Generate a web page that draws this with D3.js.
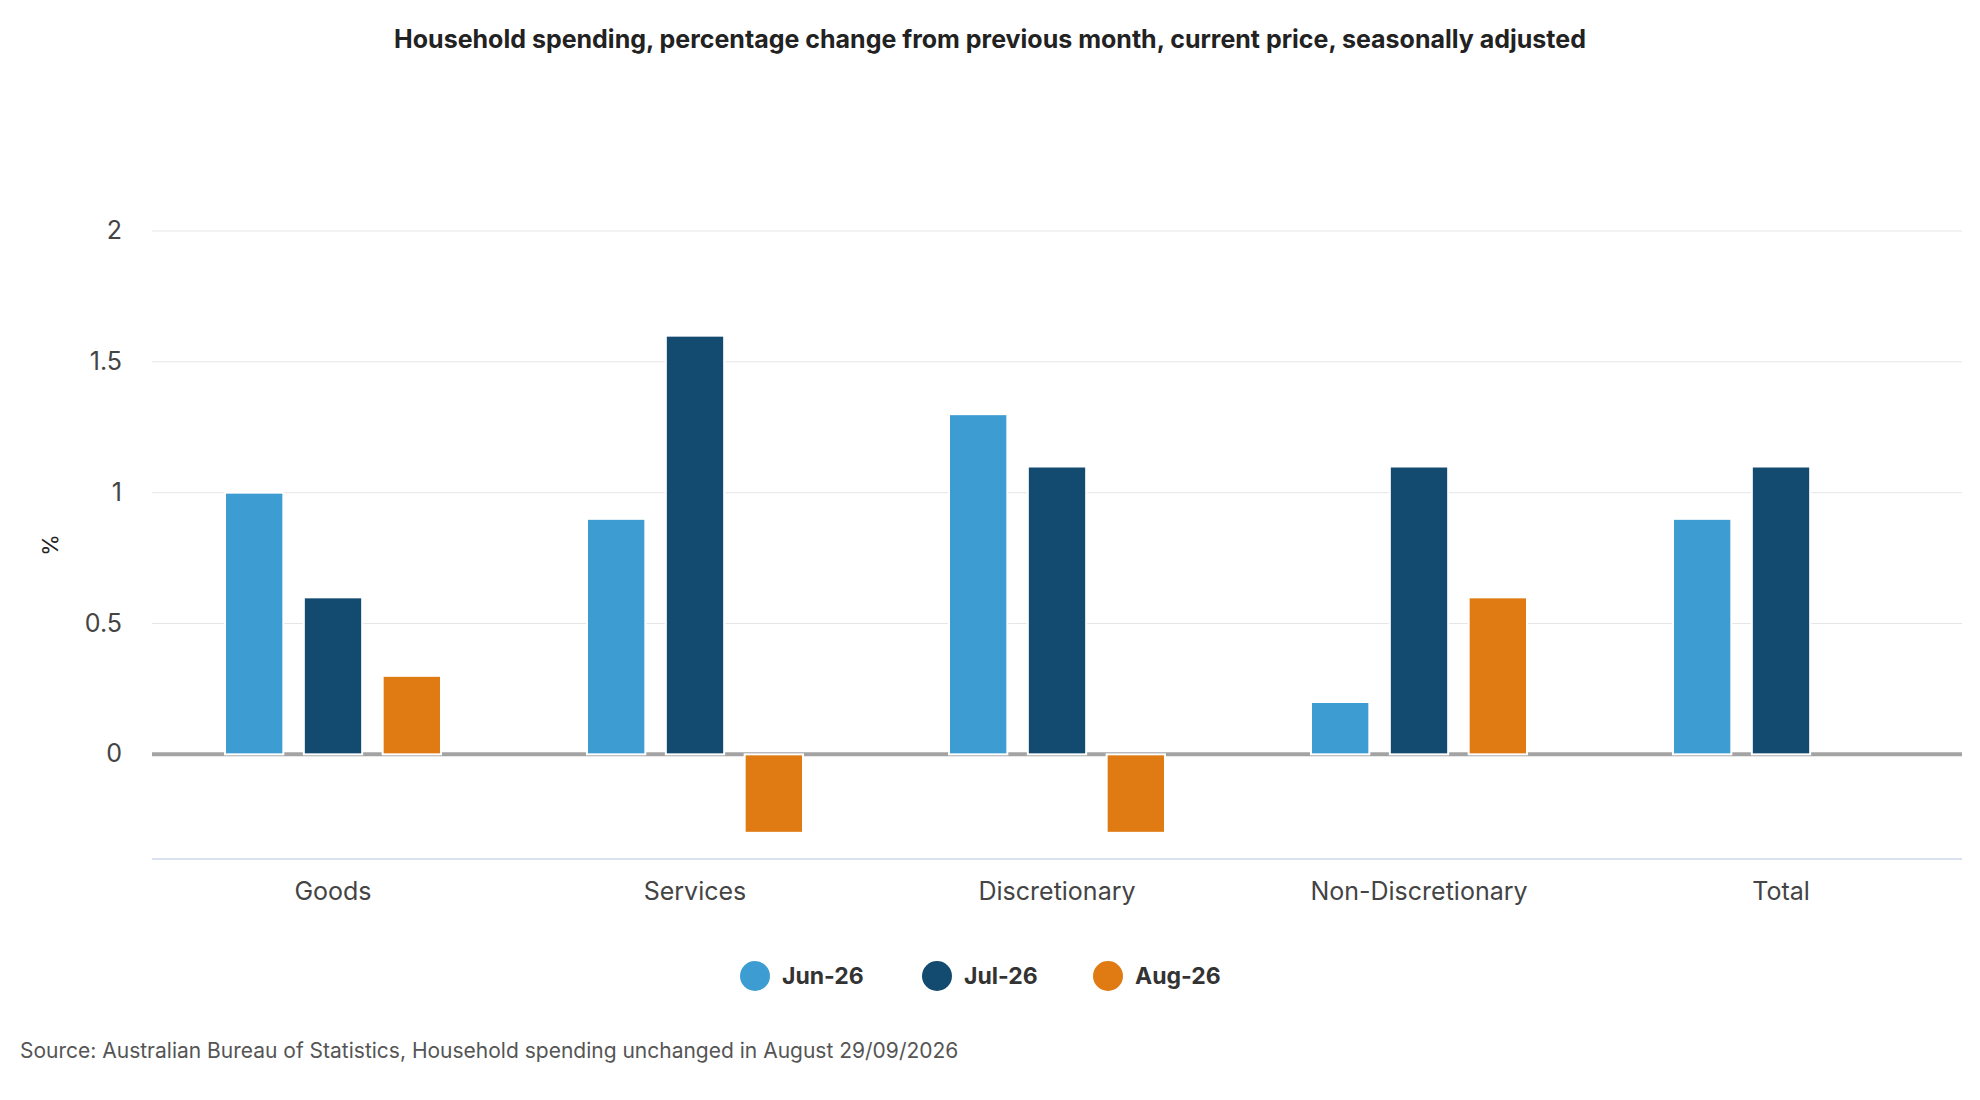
<!DOCTYPE html>
<html><head><meta charset="utf-8">
<script src="https://cdn.jsdelivr.net/npm/d3@7"></script>
<style>body{margin:0;background:#fff;font-family:Inter,"Open Sans",sans-serif;}</style>
</head><body><svg id="c" width="1980" height="1100"></svg>
<script>
const categories = ["Goods","Services","Discretionary","Non-Discretionary","Total"];
const seriesNames = ["Jun-26","Jul-26","Aug-26"];
const jun = [1.0,0.9,1.3,0.2,0.9];
const jul = [0.6,1.6,1.1,1.1,1.1];
const aug = [0.3,-0.3,-0.3,0.6,0];
const yTicks = [0,0.5,1,1.5,2];
const colors = ["#3d9dd3","#134a70","#e07b14"];
const series = [jun,jul,aug];

const svg = d3.select("#c");
const L=152,R=1962,T=231,B=859;
const x = d3.scaleBand().domain(categories).range([L,R]);
const y = d3.scaleLinear().domain([-0.4,2]).range([B,T]);
const xs = d3.scaleBand().domain(seriesNames).range([-108,108]).paddingInner(0.26);

svg.append("text").attr("x",990).attr("y",48).attr("text-anchor","middle")
  .attr("font-size",25).attr("font-weight",700).attr("fill","#222")
  .text("Household spending, percentage change from previous month, current price, seasonally adjusted");

yTicks.forEach(t=>{
  svg.append("line").attr("x1",L).attr("x2",R).attr("y1",y(t)).attr("y2",y(t)).attr("stroke","#e6e6e6");
  svg.append("text").attr("x",122).attr("y",y(t)+8).attr("text-anchor","end").attr("font-size",25).attr("fill","#444").text(t);
});
svg.append("line").attr("x1",L).attr("x2",R).attr("y1",B).attr("y2",B).attr("stroke","#ccd6eb").attr("stroke-width",1.5);
svg.append("line").attr("x1",L).attr("x2",R).attr("y1",y(0)).attr("y2",y(0)).attr("stroke","#a3a3a3").attr("stroke-width",4);

series.forEach((vals,si)=>{
  svg.append("g").selectAll("rect").data(categories.map((c,i)=>({c,v:vals[i]})).filter(d=>d.v!==0)).join("rect")
    .attr("x",d=>x(d.c)+x.bandwidth()/2+xs(seriesNames[si]))
    .attr("width",xs.bandwidth())
    .attr("y",d=>y(Math.max(0,d.v))).attr("height",d=>Math.abs(y(d.v)-y(0)))
    .attr("fill",colors[si]).attr("stroke","#fff").attr("stroke-width",2);
});

categories.forEach(c=>{
  svg.append("text").attr("x",x(c)+x.bandwidth()/2).attr("y",900).attr("text-anchor","middle")
    .attr("font-size",25).attr("fill","#444").text(c);
});

svg.append("text").attr("transform","translate(58,545) rotate(-90)").attr("text-anchor","middle")
  .attr("font-size",22).attr("fill","#222").text("%");

const lx=[755,937,1108];
seriesNames.forEach((s,i)=>{
  svg.append("circle").attr("cx",lx[i]).attr("cy",976).attr("r",15).attr("fill",colors[i]);
  svg.append("text").attr("x",lx[i]+27).attr("y",984).attr("font-size",23).attr("font-weight",700).attr("fill","#333").text(s);
});

svg.append("text").attr("x",20).attr("y",1058).attr("font-size",21).attr("fill","#555")
  .text("Source: Australian Bureau of Statistics, Household spending unchanged in August 29/09/2026");
</script></body></html>
